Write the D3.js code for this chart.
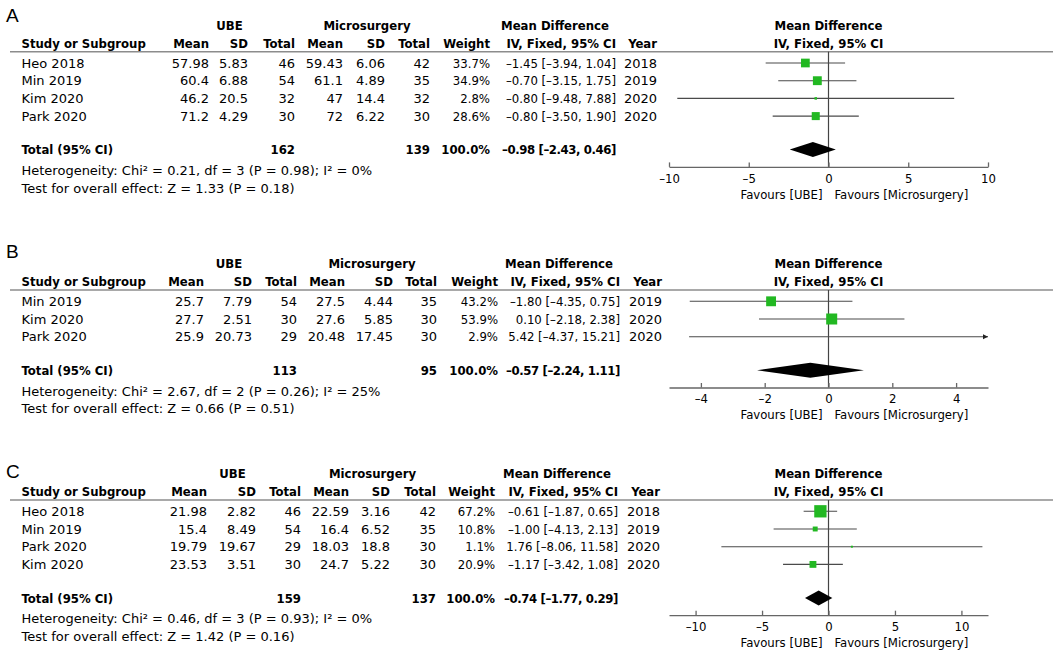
<!DOCTYPE html>
<html>
<head>
<meta charset="utf-8">
<script src="https://cdn.jsdelivr.net/npm/d3@7"></script>
<style>
  body { margin: 0; background: #fff; }
  text { font-family: "DejaVu Sans", sans-serif; font-size: 13px; fill: #000; }
  .b text, text.b { font-family: "DejaVu Sans Condensed", "DejaVu Sans", sans-serif; font-weight: bold; }
  .cond { font-family: "DejaVu Sans Condensed", "DejaVu Sans", sans-serif; }
  .tight { letter-spacing: -0.4px; }
</style>
</head>
<body>
<svg id="chart"></svg>
<script>
// ---- Panel A ----
const studiesA = ["Heo 2018", "Min 2019", "Kim 2020", "Park 2020"];
const ubeMeanA = [57.98, 60.4, 46.2, 71.2];
const ubeSdA = [5.83, 6.88, 20.5, 4.29];
const ubeNA = [46, 54, 32, 30];
const micMeanA = [59.43, 61.1, 47, 72];
const micSdA = [6.06, 4.89, 14.4, 6.22];
const micNA = [42, 35, 32, 30];
const weightA = [33.7, 34.9, 2.8, 28.6];
const mdA = [-1.45, -0.70, -0.80, -0.80];
const loA = [-3.94, -3.15, -9.48, -3.50];
const hiA = [1.04, 1.75, 7.88, 1.90];
const yearA = [2018, 2019, 2020, 2020];
const totalA = [162, 139, -0.98, -2.43, 0.46];
const hetA = ["0.21", "3", "0.98", "0%"];
const testA = ["1.33", "0.18"];
const ticksA = [-10, -5, 0, 5, 10];

// ---- Panel B ----
const studiesB = ["Min 2019", "Kim 2020", "Park 2020"];
const ubeMeanB = [25.7, 27.7, 25.9];
const ubeSdB = [7.79, 2.51, 20.73];
const ubeNB = [54, 30, 29];
const micMeanB = [27.5, 27.6, 20.48];
const micSdB = [4.44, 5.85, 17.45];
const micNB = [35, 30, 30];
const weightB = [43.2, 53.9, 2.9];
const mdB = [-1.80, 0.10, 5.42];
const loB = [-4.35, -2.18, -4.37];
const hiB = [0.75, 2.38, 15.21];
const yearB = [2019, 2020, 2020];
const totalB = [113, 95, -0.57, -2.24, 1.11];
const hetB = ["2.67", "2", "0.26", "25%"];
const testB = ["0.66", "0.51"];
const ticksB = [-4, -2, 0, 2, 4];

// ---- Panel C ----
const studiesC = ["Heo 2018", "Min 2019", "Park 2020", "Kim 2020"];
const ubeMeanC = [21.98, 15.4, 19.79, 23.53];
const ubeSdC = [2.82, 8.49, 19.67, 3.51];
const ubeNC = [46, 54, 29, 30];
const micMeanC = [22.59, 16.4, 18.03, 24.7];
const micSdC = [3.16, 6.52, 18.8, 5.22];
const micNC = [42, 35, 30, 30];
const weightC = [67.2, 10.8, 1.1, 20.9];
const mdC = [-0.61, -1.00, 1.76, -1.17];
const loC = [-1.87, -4.13, -8.06, -3.42];
const hiC = [0.65, 2.13, 11.58, 1.08];
const yearC = [2018, 2019, 2020, 2020];
const totalC = [159, 137, -0.74, -1.77, 0.29];
const hetC = ["0.46", "3", "0.93", "0%"];
const testC = ["1.42", "0.16"];
const ticksC = [-10, -5, 0, 5, 10];

const W = 1053, H = 654;
const svg = d3.select("#chart").attr("width", W).attr("height", H);

// RevMan style: dash for negatives
const dash = s => String(s).replace(/[-\u2212]/g, "\u2013");
const fmt2 = d3.format(".2f");
const fmt1 = d3.format(".1f");
const ciText = (m, l, h) => dash(`${fmt2(m)} [${fmt2(l)}, ${fmt2(h)}]`);
const sizeScale = d3.scaleSqrt().domain([0, 100]).range([0, 15]);
const rowStep = 17.7;
const green = "#22b822";

svg.append("defs").append("marker")
  .attr("id", "arrow")
  .attr("viewBox", "0 0 10 10")
  .attr("refX", 10).attr("refY", 5)
  .attr("markerWidth", 5).attr("markerHeight", 6)
  .attr("markerUnits", "userSpaceOnUse")
  .attr("orient", "auto")
  .append("path").attr("d", "M0,0L10,5L0,10Z").attr("fill", "#222");

function drawPanel(p) {
  const g = svg.append("g");
  const L = p.lineY;
  const c = p.cols; // right edges: mean, sd, n, mean, sd, n, weight, ci, year
  const x = d3.scaleLinear().domain(p.domain).range([669, 988]);

  g.append("text").attr("x", 6).attr("y", p.letterY).attr("dy", "0.36em")
    .style("font-family", "'Liberation Sans', Arial, sans-serif")
    .style("font-size", "19px").text(p.letter);

  // group headers
  const top = g.append("g").attr("class", "b");
  top.append("text").attr("x", (c[0] + c[1]) / 2 + 1).attr("y", L - 26.5).attr("dy", "0.36em")
    .attr("text-anchor", "middle").text("UBE");
  top.append("text").attr("x", (c[3] + c[4]) / 2 + 3).attr("y", L - 26.5).attr("dy", "0.36em")
    .attr("text-anchor", "middle").text("Microsurgery");
  top.append("text").attr("x", c[7] - 61).attr("y", L - 26.5).attr("dy", "0.36em")
    .attr("text-anchor", "middle").text("Mean Difference");
  top.append("text").attr("x", x(0)).attr("y", L - 26.5).attr("dy", "0.36em")
    .attr("text-anchor", "middle").text("Mean Difference");

  // column headers
  const hy = L - 8.5;
  top.append("text").attr("x", 21.5).attr("y", hy).attr("dy", "0.36em").text("Study or Subgroup");
  const heads = ["Mean", "SD", "Total", "Mean", "SD", "Total", "Weight", "IV, Fixed, 95% CI", "Year"];
  top.selectAll(null).data(heads).join("text")
    .attr("x", (d, i) => c[i]).attr("y", hy).attr("dy", "0.36em")
    .attr("text-anchor", "end").text(d => d);
  top.append("text").attr("x", x(0)).attr("y", hy).attr("dy", "0.36em")
    .attr("text-anchor", "middle").text("IV, Fixed, 95% CI");

  g.append("line").attr("x1", 10).attr("x2", W).attr("y1", L).attr("y2", L)
    .attr("stroke", "#8c8c8c").attr("stroke-width", 1.6);

  const rowY = i => L + 11.3 + i * rowStep;
  const n = p.studies.length;

  // study rows
  p.studies.forEach((s, i) => {
    const y = rowY(i);
    const vals = [p.ubeMean[i], p.ubeSd[i], p.ubeN[i], p.micMean[i], p.micSd[i], p.micN[i],
      fmt1(p.weight[i]) + "%", ciText(p.md[i], p.lo[i], p.hi[i]), p.year[i]];
    g.append("text").attr("x", 21.5).attr("y", y).attr("dy", "0.36em").text(s);
    g.selectAll(null).data(vals).join("text")
      .attr("class", (d, k) => (k === 6 || k === 7) ? "cond" : null)
      .attr("x", (d, k) => c[k]).attr("y", y).attr("dy", "0.36em")
      .attr("text-anchor", "end").text(d => dash(d));
  });

  const totalY = rowY(n - 1) + 33.5;
  const axisY = totalY + 17.3;
  const hetY = totalY + 20.8;
  const testY = hetY + 17.6;

  // zero line
  g.append("line").attr("x1", x(0)).attr("x2", x(0)).attr("y1", L).attr("y2", axisY)
    .attr("stroke", "#444").attr("stroke-width", 1.2);

  // CI lines and squares
  p.studies.forEach((s, i) => {
    const y = rowY(i);
    const lo = Math.max(p.lo[i], p.domain[0]);
    const hi = Math.min(p.hi[i], p.domain[1]);
    const ln = g.append("line").attr("x1", x(lo)).attr("x2", x(hi)).attr("y1", y).attr("y2", y)
      .attr("stroke", "#4a4a4a").attr("stroke-width", 1.1);
    if (p.hi[i] > p.domain[1]) ln.attr("marker-end", "url(#arrow)");
    if (p.md[i] >= p.domain[0] && p.md[i] <= p.domain[1]) {
      const sz = Math.max(2, sizeScale(p.weight[i]));
      g.append("rect").attr("x", x(p.md[i]) - sz / 2).attr("y", y - sz / 2)
        .attr("width", sz).attr("height", sz).attr("fill", green);
    }
  });

  // total row
  const tot = p.total;
  const tg = g.append("g").attr("class", "b");
  tg.append("text").attr("x", 21.5).attr("y", totalY).attr("dy", "0.36em").text("Total (95% CI)");
  const tv = [[c[2], tot[0]], [c[5], tot[1]], [c[6], "100.0%"], [c[7], ciText(tot[2], tot[3], tot[4])]];
  tg.selectAll(null).data(tv).join("text")
    .attr("class", (d, k) => k === 3 ? "tight" : null)
    .attr("x", d => d[0]).attr("y", totalY).attr("dy", "0.36em")
    .attr("text-anchor", "end").text(d => d[1]);

  // diamond
  const dh = 7.5;
  g.append("path")
    .attr("d", `M${x(tot[3])},${totalY}L${x(tot[2])},${totalY - dh}L${x(tot[4])},${totalY}L${x(tot[2])},${totalY + dh}Z`)
    .attr("fill", "#000");

  g.append("text").attr("x", 21.5).attr("y", hetY).attr("dy", "0.36em")
    .text(`Heterogeneity: Chi\u00b2 = ${p.het[0]}, df = ${p.het[1]} (P = ${p.het[2]}); I\u00b2 = ${p.het[3]}`);
  g.append("text").attr("x", 21.5).attr("y", testY).attr("dy", "0.36em")
    .text(`Test for overall effect: Z = ${p.test[0]} (P = ${p.test[1]})`);

  // axis
  const ax = g.append("g").attr("transform", `translate(0,${axisY})`)
    .call(d3.axisBottom(x).tickValues(p.ticks).tickFormat(d => dash(d))
      .tickSize(-4.5).tickSizeOuter(0).tickPadding(6.5));
  ax.select(".domain").attr("stroke", "#666").attr("stroke-width", 1.3);
  ax.selectAll(".tick line").attr("stroke", "#666").attr("stroke-width", 1.3);
  ax.selectAll(".tick text")
    .style("font-family", "'DejaVu Sans Condensed', 'DejaVu Sans', sans-serif")
    .style("font-size", "13px").attr("fill", "#000");

  g.append("text").attr("class", "cond").attr("x", x(0) - 6).attr("y", axisY + 27).attr("dy", "0.36em")
    .attr("text-anchor", "end").text("Favours [UBE]");
  g.append("text").attr("class", "cond").attr("x", x(0) + 6).attr("y", axisY + 27).attr("dy", "0.36em")
    .text("Favours [Microsurgery]");
}

drawPanel({
  letter: "A", letterY: 15, lineY: 51.7, domain: [-10, 10], ticks: ticksA,
  cols: [209, 248, 295, 343, 385, 430, 490, 616, 657],
  studies: studiesA, ubeMean: ubeMeanA, ubeSd: ubeSdA, ubeN: ubeNA,
  micMean: micMeanA, micSd: micSdA, micN: micNA, weight: weightA,
  md: mdA, lo: loA, hi: hiA, year: yearA, total: totalA, het: hetA, test: testA
});
drawPanel({
  letter: "B", letterY: 251, lineY: 290, domain: [-5, 5], ticks: ticksB,
  cols: [204, 252, 297, 345, 393, 437, 498, 620, 662],
  studies: studiesB, ubeMean: ubeMeanB, ubeSd: ubeSdB, ubeN: ubeNB,
  micMean: micMeanB, micSd: micSdB, micN: micNB, weight: weightB,
  md: mdB, lo: loB, hi: hiB, year: yearB, total: totalB, het: hetB, test: testB
});
drawPanel({
  letter: "C", letterY: 471, lineY: 500, domain: [-12, 12], ticks: ticksC,
  cols: [207, 256, 301, 349, 390, 436, 495, 618, 660],
  studies: studiesC, ubeMean: ubeMeanC, ubeSd: ubeSdC, ubeN: ubeNC,
  micMean: micMeanC, micSd: micSdC, micN: micNC, weight: weightC,
  md: mdC, lo: loC, hi: hiC, year: yearC, total: totalC, het: hetC, test: testC
});
</script>
</body>
</html>
